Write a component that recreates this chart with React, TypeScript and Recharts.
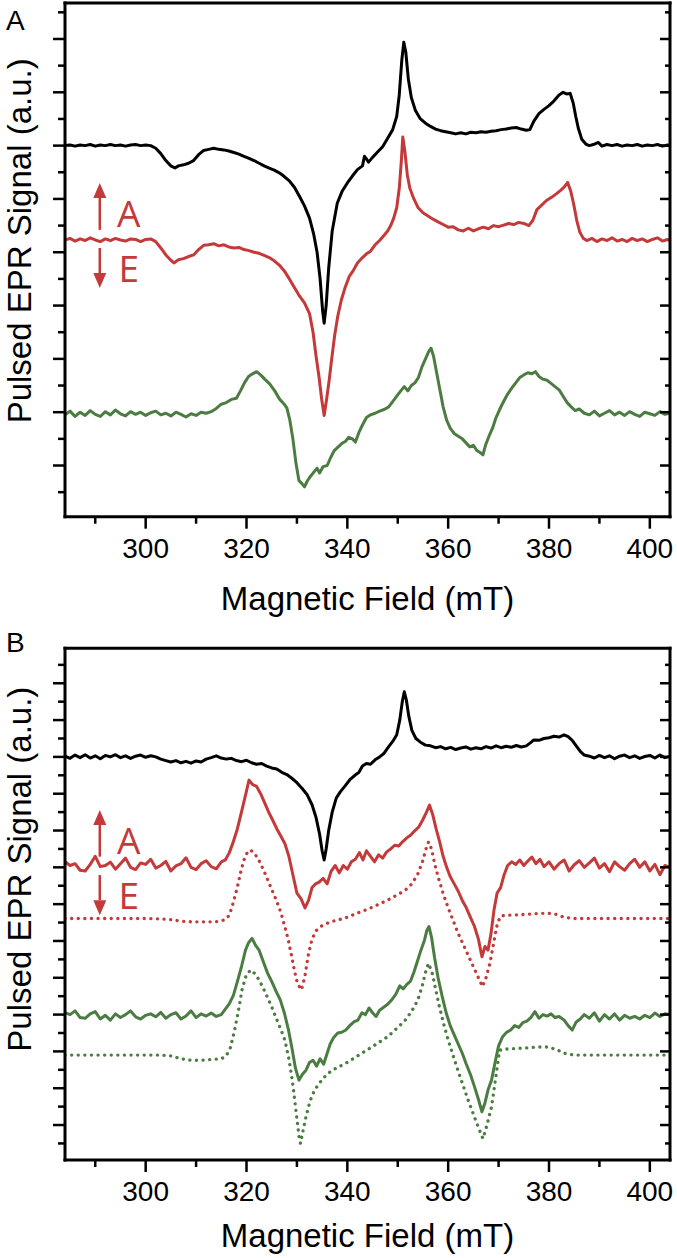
import React from 'react';
import { LineChart, Line, XAxis, YAxis, ReferenceLine } from 'recharts';

type Pt = [number, number];

// field (mT) / signal (a.u., one major y tick = 1)
const blackA: Pt[] = [
  [284, 0.0], [285, 0.01], [286, -0.01], [287, 0.01], [288, 0.0], [289, 0.02], [290, -0.01], [291, 0.01], [292, 0.0],
  [293, 0.02], [294, 0.0], [295, 0.01], [296, -0.01], [297, 0.01], [298, 0.02], [299, 0.0], [300, 0.01], [301, 0.0],
  [302, -0.05], [303, -0.15], [304, -0.28], [305, -0.38], [305.8, -0.42], [306.5, -0.38], [307.5, -0.36], [308.5, -0.33],
  [309.5, -0.28], [310.5, -0.17], [311.5, -0.09], [312.5, -0.07], [313.5, -0.05], [314.5, -0.07], [315.5, -0.08],
  [316.5, -0.1], [317.5, -0.13], [318.5, -0.16], [319.5, -0.2], [320.5, -0.24], [321.5, -0.28], [322.5, -0.33],
  [323.5, -0.38], [324.5, -0.42], [325.5, -0.46], [326.5, -0.51], [327.5, -0.58], [328.5, -0.66], [329.5, -0.78],
  [330.5, -0.95], [331.5, -1.13], [332.5, -1.36], [333.3, -1.65], [334, -2.0], [334.6, -2.5], [335.1, -3.1],
  [335.4, -3.33], [335.8, -3.0], [336.3, -2.3], [337, -1.6], [338, -1.08], [339, -0.85], [340, -0.7], [341, -0.57],
  [342, -0.45], [343, -0.38], [343.4, -0.2], [343.8, -0.25], [344.2, -0.31], [345, -0.22], [346, -0.12], [347, -0.02],
  [348, 0.14], [349, 0.3], [349.8, 0.55], [350.3, 0.95], [350.8, 1.6], [351.2, 1.94], [351.6, 1.75], [352.1, 1.25],
  [352.7, 0.9], [353.5, 0.66], [354.5, 0.5], [355.5, 0.42], [356.5, 0.36], [357.5, 0.31], [358.5, 0.28], [359.5, 0.26],
  [360.5, 0.24], [361.5, 0.22], [362.5, 0.24], [363.5, 0.22], [364.5, 0.25], [365.5, 0.24], [366.5, 0.26],
  [367.5, 0.25], [368.5, 0.27], [369.5, 0.28], [370.5, 0.3], [371.5, 0.31], [372.5, 0.33], [373.5, 0.34],
  [374.5, 0.31], [375.5, 0.29], [376.2, 0.3], [377, 0.46], [378, 0.6], [379, 0.68], [380, 0.75], [381, 0.84],
  [382, 0.95], [382.8, 1.0], [383.5, 0.97], [384.2, 0.98], [384.8, 0.8], [385.3, 0.55], [385.8, 0.33], [386.5, 0.12],
  [387.3, 0.03], [388, 0.0], [388.8, 0.02], [389.8, 0.06], [390.5, -0.01], [391.5, 0.02], [392.5, 0.0], [393.5, 0.02],
  [394.5, -0.01], [395.5, 0.01], [396.5, 0.0], [397.5, 0.02], [398.5, -0.01], [399.5, 0.01], [400.5, 0.0],
  [401.5, 0.02], [402.5, -0.01], [403.5, 0.01], [404, 0.0],
];

const redA: Pt[] = [
  [284, -1.77], [285, -1.74], [286, -1.79], [287, -1.75], [288, -1.78], [289, -1.73], [290, -1.77], [291, -1.8],
  [292, -1.75], [293, -1.78], [294, -1.74], [295, -1.77], [296, -1.79], [297, -1.75], [298, -1.76], [299, -1.8],
  [300, -1.76], [301, -1.75], [302, -1.8], [303, -1.92], [304, -2.05], [305, -2.15], [305.6, -2.2], [306.5, -2.14],
  [307.5, -2.12], [308.5, -2.08], [309.5, -2.05], [310.5, -1.95], [311.5, -1.87], [312.5, -1.86], [313.5, -1.84],
  [314.5, -1.88], [315.5, -1.86], [316.5, -1.9], [317.5, -1.92], [318.5, -1.91], [319.5, -1.95], [320.5, -1.97],
  [321.5, -2.0], [322.5, -2.02], [323.5, -2.06], [324.5, -2.1], [325.5, -2.16], [326.5, -2.24], [327.5, -2.35],
  [328.5, -2.5], [329.5, -2.66], [330.5, -2.82], [331.5, -2.95], [332.5, -3.15], [333.2, -3.5], [333.8, -3.95],
  [334.4, -4.35], [334.9, -4.75], [335.4, -5.06], [335.9, -4.75], [336.4, -4.4], [336.9, -4.0], [337.5, -3.55],
  [338.1, -3.2], [338.8, -2.9], [339.6, -2.65], [340.4, -2.45], [341.2, -2.34], [342, -2.2], [343, -2.1],
  [343.8, -2.03], [344.6, -1.98], [345.5, -1.86], [346.4, -1.78], [347.3, -1.68], [348, -1.6], [348.6, -1.5],
  [349.2, -1.36], [349.8, -1.16], [350.3, -0.8], [350.7, -0.3], [351, 0.16], [351.4, -0.1], [351.9, -0.55],
  [352.4, -0.8], [353.2, -1.0], [354, -1.16], [355, -1.26], [356, -1.32], [357, -1.38], [358, -1.43], [359, -1.48],
  [360, -1.53], [361, -1.52], [362, -1.58], [363, -1.6], [364, -1.55], [365, -1.6], [366, -1.56], [367, -1.53],
  [368, -1.56], [369, -1.5], [370, -1.52], [371, -1.49], [372, -1.46], [373, -1.48], [374, -1.44], [375, -1.46],
  [376, -1.5], [376.8, -1.4], [377.6, -1.2], [378.5, -1.12], [379.5, -1.03], [380.5, -0.97], [381.5, -0.9],
  [382.3, -0.84], [383, -0.78], [383.7, -0.69], [384.3, -0.85], [384.9, -1.1], [385.5, -1.4], [386.1, -1.62],
  [386.8, -1.74], [387.5, -1.78], [388.5, -1.74], [389.5, -1.8], [390.5, -1.75], [391.5, -1.78], [392.5, -1.73],
  [393.5, -1.79], [394.5, -1.76], [395.5, -1.8], [396.5, -1.74], [397.5, -1.78], [398.5, -1.75], [399.5, -1.8],
  [400.5, -1.76], [401.5, -1.73], [402.5, -1.79], [403.5, -1.76], [404, -1.78],
];

const greenA: Pt[] = [
  [284, -5.05], [285, -4.98], [286, -5.08], [287, -5.0], [288, -5.06], [289, -4.97], [290, -5.04], [291, -5.08],
  [292, -4.99], [293, -5.05], [294, -4.96], [295, -5.03], [296, -5.07], [297, -4.99], [298, -5.04], [299, -5.0],
  [300, -5.06], [301, -5.01], [302, -4.98], [303, -5.05], [304, -5.02], [305, -5.07], [306, -5.0], [307, -5.04],
  [308, -5.09], [309, -5.03], [310, -5.06], [311, -5.0], [312, -5.02], [313, -4.99], [314, -4.93], [315, -4.85],
  [316, -4.82], [317, -4.76], [318, -4.74], [318.8, -4.6], [319.6, -4.45], [320.4, -4.33], [321.2, -4.28],
  [322, -4.24], [322.8, -4.3], [323.6, -4.38], [324.6, -4.47], [325.6, -4.6], [326.6, -4.76], [327.4, -4.84],
  [328, -4.92], [328.6, -5.15], [329.2, -5.5], [329.8, -5.95], [330.4, -6.28], [331, -6.34], [331.5, -6.4],
  [332, -6.3], [332.7, -6.2], [333.4, -6.12], [334, -6.05], [334.5, -6.14], [335.2, -6.02], [336, -6.0],
  [336.7, -5.85], [337.4, -5.72], [338.2, -5.65], [339, -5.58], [339.6, -5.55], [340.3, -5.47], [341, -5.5],
  [341.6, -5.56], [342.3, -5.38], [343, -5.24], [343.8, -5.1], [344.6, -5.05], [345.5, -5.02], [346.4, -4.98],
  [347.3, -4.95], [348.2, -4.9], [349, -4.8], [349.8, -4.7], [350.6, -4.6], [351.3, -4.52], [352, -4.6],
  [352.7, -4.5], [353.4, -4.45], [354.1, -4.35], [354.8, -4.15], [355.5, -4.0], [356.2, -3.85], [356.6, -3.8],
  [357.1, -3.95], [357.7, -4.25], [358.3, -4.55], [359, -4.9], [359.7, -5.15], [360.4, -5.3], [361.2, -5.4],
  [362, -5.45], [362.8, -5.5], [363.6, -5.58], [364.3, -5.65], [365, -5.62], [365.7, -5.72], [366.4, -5.76],
  [366.9, -5.8], [367.4, -5.62], [368.1, -5.45], [368.8, -5.3], [369.5, -5.1], [370.2, -4.95], [371, -4.8],
  [371.8, -4.66], [372.6, -4.55], [373.4, -4.45], [374.2, -4.35], [375, -4.3], [375.8, -4.26], [376.6, -4.28],
  [377.3, -4.24], [378, -4.33], [378.8, -4.38], [379.6, -4.4], [380.4, -4.46], [381.2, -4.52], [382, -4.58],
  [382.8, -4.7], [383.6, -4.82], [384.4, -4.9], [385.2, -4.97], [386, -4.94], [387, -5.02], [388, -5.05],
  [389, -4.98], [390, -5.07], [391, -5.02], [392, -4.97], [393, -5.05], [394, -5.0], [395, -5.06], [396, -4.99],
  [397, -5.04], [398, -5.08], [399, -5.0], [400, -5.03], [401, -5.06], [402, -4.99], [403, -5.04], [404, -5.02],
];

const blackB: Pt[] = [
  [284, 0.02], [285, -0.04], [286, 0.05], [287, -0.02], [288, 0.06], [289, -0.03], [290, 0.03], [291, -0.05],
  [292, 0.04], [293, 0.0], [294, 0.06], [295, -0.02], [296, 0.03], [297, -0.04], [298, 0.02], [299, 0.05],
  [300, -0.01], [301, 0.03], [302, 0.0], [303, -0.06], [304, -0.1], [305, -0.14], [306, -0.1], [307, -0.16],
  [308, -0.12], [309, -0.17], [310, -0.11], [311, -0.14], [312, -0.06], [313, -0.02], [314, 0.03], [315, -0.03],
  [316, -0.06], [317, -0.04], [318, -0.1], [319, -0.13], [320, -0.09], [321, -0.16], [322, -0.2], [323, -0.18],
  [324, -0.25], [325, -0.3], [326, -0.33], [327, -0.42], [328, -0.48], [329, -0.58], [330, -0.7], [331, -0.85],
  [332, -1.02], [333, -1.3], [333.8, -1.65], [334.5, -2.1], [335, -2.55], [335.4, -2.8], [335.8, -2.5],
  [336.3, -2.0], [337, -1.5], [337.8, -1.12], [338.6, -0.95], [339.6, -0.78], [340.5, -0.62], [341.5, -0.5],
  [342.3, -0.42], [343, -0.25], [343.8, -0.18], [344.6, -0.2], [345.5, -0.08], [346.4, 0.0], [347.3, 0.1],
  [348.2, 0.28], [349, 0.42], [349.8, 0.6], [350.4, 1.0], [350.9, 1.5], [351.3, 1.77], [351.7, 1.55],
  [352.2, 1.1], [352.8, 0.72], [353.6, 0.5], [354.5, 0.4], [355.5, 0.32], [356.5, 0.3], [357.5, 0.25],
  [358.5, 0.28], [359.5, 0.22], [360.5, 0.26], [361.5, 0.2], [362.5, 0.24], [363.5, 0.27], [364.5, 0.21],
  [365.5, 0.25], [366.5, 0.22], [367.5, 0.28], [368.5, 0.24], [369.5, 0.3], [370.5, 0.25], [371.5, 0.29],
  [372.5, 0.26], [373.5, 0.31], [374.5, 0.27], [375.5, 0.3], [376.3, 0.38], [377, 0.46], [378, 0.45], [379, 0.5],
  [380, 0.52], [381, 0.56], [382, 0.54], [383, 0.6], [383.8, 0.55], [384.6, 0.45], [385.4, 0.3], [386.2, 0.15],
  [387, 0.05], [388, 0.02], [389, -0.03], [390, 0.04], [391, -0.02], [392, 0.03], [393, -0.05], [394, 0.02],
  [395, 0.05], [396, -0.02], [397, 0.03], [398, -0.04], [399, 0.01], [400, 0.04], [401, -0.03], [402, 0.05],
  [403, -0.02], [404, 0.01],
];

const redB: Pt[] = [
  [284, -2.85], [285, -2.95], [286, -2.9], [287, -3.08], [288, -3.1], [289, -2.92], [290, -2.7], [291, -2.98],
  [292, -2.95], [293, -2.86], [294, -3.05], [295, -2.9], [296, -2.75], [297, -3.0], [298, -3.06], [299, -2.88],
  [300, -2.92], [301, -2.78], [302, -3.02], [303, -2.95], [304, -2.84], [305, -3.1], [306, -2.96], [307, -2.9],
  [308, -2.74], [309, -3.0], [310, -3.06], [311, -2.9], [312, -2.82], [313, -2.98], [314, -3.04], [315, -2.85],
  [315.8, -2.8], [316.6, -2.6], [317.4, -2.3], [318.2, -1.95], [319, -1.5], [319.7, -1.1], [320.5, -0.63],
  [321.2, -0.75], [322, -0.8], [322.8, -1.0], [323.6, -1.25], [324.4, -1.5], [325.2, -1.72], [326, -1.95],
  [326.8, -2.15], [327.6, -2.35], [328.4, -2.7], [329.2, -3.2], [330, -3.7], [330.8, -3.85], [331.6, -4.1],
  [332.3, -3.9], [333, -3.55], [333.7, -3.45], [334.4, -3.4], [335.2, -3.3], [336, -3.45], [336.8, -3.1],
  [337.6, -2.95], [338.4, -3.15], [339.2, -2.95], [340, -3.05], [340.8, -2.85], [341.6, -2.78], [342.4, -2.6],
  [343.1, -2.8], [343.8, -2.55], [344.6, -2.7], [345.4, -2.85], [346.2, -2.66], [347, -2.75], [347.8, -2.58],
  [348.6, -2.5], [349.4, -2.4], [350.2, -2.42], [351, -2.3], [351.8, -2.2], [352.6, -2.12], [353.4, -2.0],
  [354.2, -1.9], [355, -1.7], [355.7, -1.5], [356.3, -1.31], [356.9, -1.55], [357.6, -1.95], [358.3, -2.3],
  [359, -2.7], [359.7, -3.0], [360.4, -3.25], [361.2, -3.45], [362, -3.65], [362.8, -3.9], [363.6, -4.1],
  [364.4, -4.35], [365.2, -4.6], [366, -4.95], [366.7, -5.43], [367.3, -5.15], [367.9, -5.25], [368.5, -4.8],
  [369.1, -4.15], [369.7, -3.7], [370.4, -3.55], [371.1, -3.2], [371.8, -2.95], [372.6, -2.85], [373.4, -2.92],
  [374.2, -2.8], [375, -2.95], [375.8, -2.83], [376.6, -2.72], [377.4, -2.9], [378.2, -2.78], [379, -2.98],
  [380, -2.85], [381, -3.05], [382, -2.9], [383, -2.8], [384, -3.1], [385, -2.93], [386, -2.82], [387, -3.0],
  [388, -2.88], [389, -2.75], [390, -3.02], [391, -2.9], [392, -3.12], [393, -2.85], [394, -2.98], [395, -3.08],
  [396, -2.9], [397, -2.78], [398, -3.0], [399, -2.85], [400, -3.1], [401, -2.92], [402, -3.2], [403, -2.95],
  [404, -3.0],
];

const redSimB: Pt[] = [
  [284, -4.39], [290, -4.39], [295, -4.39], [300, -4.39], [303, -4.4], [305, -4.42], [307, -4.46], [309, -4.48],
  [311, -4.48], [313, -4.48], [314.5, -4.47], [315.8, -4.42], [316.6, -4.3], [317.4, -3.95], [318.2, -3.53],
  [318.9, -3.1], [319.5, -2.8], [320.2, -2.58], [320.8, -2.53], [321.6, -2.62], [322.5, -2.82], [323.4, -3.08],
  [324.2, -3.34], [325, -3.6], [325.9, -3.89], [326.8, -4.22], [327.6, -4.61], [328.3, -4.98], [328.9, -5.38],
  [329.5, -5.8], [330.1, -6.15], [330.9, -6.33], [331.6, -5.95], [332.3, -5.35], [333, -4.95], [333.8, -4.72],
  [334.8, -4.6], [336, -4.52], [337.5, -4.45], [339.5, -4.38], [341.5, -4.27], [343.8, -4.15], [346, -4.02],
  [348, -3.89], [350, -3.74], [351.5, -3.62], [352.8, -3.45], [354, -3.17], [354.9, -2.85], [355.6, -2.5],
  [356.1, -2.31], [356.7, -2.5], [357.4, -2.95], [358.2, -3.35], [359.1, -3.75], [360, -4.1], [361, -4.45],
  [362, -4.8], [363, -5.1], [364, -5.4], [365, -5.7], [366, -6.0], [366.8, -6.24], [367.5, -6.0], [368.3, -5.6],
  [369.1, -5.0], [369.8, -4.5], [370.5, -4.32], [372, -4.3], [374, -4.29], [376, -4.27], [378, -4.25], [380, -4.25],
  [381.5, -4.28], [383, -4.36], [385, -4.39], [390, -4.39], [395, -4.39], [400, -4.39], [404, -4.39],
];

const greenB: Pt[] = [
  [284, -6.95], [285, -7.0], [286, -6.9], [287, -7.08], [288, -7.1], [289, -6.98], [290, -6.92], [291, -7.12],
  [292, -7.02], [293, -7.15], [294, -6.98], [295, -7.08], [296, -7.0], [297, -6.9], [298, -7.06], [299, -7.12],
  [300, -7.02], [301, -6.98], [302, -7.06], [303, -6.94], [304, -7.1], [305, -7.0], [306, -6.95], [307, -7.12],
  [308, -7.04], [309, -6.9], [310, -7.08], [311, -6.98], [312, -7.04], [313, -6.96], [314, -7.05], [315, -7.0],
  [315.8, -6.85], [316.6, -6.7], [317.4, -6.48], [318.2, -6.1], [319, -5.7], [319.8, -5.25], [320.4, -5.05],
  [321.1, -4.93], [321.8, -5.12], [322.5, -5.25], [323.3, -5.55], [324.2, -5.88], [325, -6.1], [325.8, -6.35],
  [326.7, -6.6], [327.5, -6.95], [328.3, -7.4], [329, -7.9], [329.7, -8.45], [330.4, -8.78], [331.1, -8.62],
  [331.8, -8.51], [332.5, -8.3], [333.2, -8.24], [333.9, -8.4], [334.6, -8.2], [335.3, -8.35], [336, -8.05],
  [336.6, -7.8], [337.3, -7.62], [338.1, -7.5], [338.9, -7.48], [339.7, -7.42], [340.5, -7.3], [341.3, -7.2],
  [342.1, -7.15], [342.9, -6.95], [343.6, -7.0], [344.3, -6.82], [345, -6.95], [345.7, -7.05], [346.4, -6.88],
  [347.2, -6.8], [348, -6.72], [348.8, -6.6], [349.6, -6.45], [350.4, -6.22], [351.1, -6.3], [351.8, -6.18],
  [352.5, -6.1], [353.2, -5.85], [353.9, -5.55], [354.6, -5.25], [355.3, -4.98], [355.8, -4.7], [356.2, -4.61],
  [356.7, -4.9], [357.3, -5.45], [358, -6.0], [358.8, -6.5], [359.6, -6.95], [360.4, -7.3], [361.2, -7.55],
  [362, -7.8], [362.8, -8.05], [363.6, -8.35], [364.4, -8.62], [365.2, -8.95], [366, -9.3], [366.7, -9.64],
  [367.3, -9.4], [367.9, -9.05], [368.6, -8.78], [369.3, -8.3], [370, -7.85], [370.8, -7.6], [371.6, -7.48],
  [372.4, -7.42], [373.2, -7.3], [374, -7.35], [374.8, -7.22], [375.6, -7.18], [376.4, -7.08], [377.2, -6.92],
  [378, -7.1], [378.8, -7.0], [379.6, -7.04], [380.4, -6.98], [381.2, -7.08], [382, -7.05], [383, -7.15],
  [383.8, -7.3], [384.6, -7.42], [385.4, -7.2], [386.2, -7.12], [387, -7.0], [388, -7.1], [389, -6.95],
  [390, -7.18], [391, -7.0], [392, -7.12], [393, -6.98], [394, -7.15], [395, -7.02], [396, -7.1], [397, -7.05],
  [398, -7.12], [399, -7.02], [400, -7.08], [401, -6.96], [402, -7.05], [403, -6.98], [404, -7.0],
];

const greenSimB: Pt[] = [
  [284, -8.1], [290, -8.1], [295, -8.1], [300, -8.1], [303, -8.1], [305, -8.12], [307, -8.2], [309, -8.24],
  [311, -8.24], [313, -8.22], [315, -8.2], [316, -8.12], [316.8, -7.9], [317.6, -7.45], [318.4, -6.9],
  [319.1, -6.33], [319.9, -5.95], [320.8, -5.79], [321.6, -5.88], [322.5, -6.06], [323.4, -6.3], [324.2, -6.55],
  [325, -6.79], [325.9, -7.1], [326.8, -7.4], [327.6, -7.69], [328.4, -8.2], [329.1, -8.8], [329.8, -9.6],
  [330.4, -10.3], [330.7, -10.5], [331.3, -10.1], [331.8, -9.78], [332.6, -9.35], [333.5, -9.05], [334.8, -8.8],
  [336.1, -8.6], [337.8, -8.45], [339.6, -8.33], [341.7, -8.15], [343.8, -7.97], [346, -7.78], [348, -7.6],
  [350, -7.35], [351.5, -7.15], [352.8, -6.9], [354, -6.6], [354.9, -6.2], [355.6, -5.8], [356.1, -5.61],
  [356.8, -5.85], [357.4, -6.24], [358.2, -6.75], [359.1, -7.25], [360, -7.69], [361.3, -8.25], [362.6, -8.78],
  [363.9, -9.3], [365.2, -9.78], [366.1, -10.1], [366.9, -10.37], [367.7, -10.0], [368.6, -9.51], [369.4, -8.75],
  [370.2, -7.97], [371, -7.94], [373.6, -7.92], [376, -7.9], [378, -7.88], [379.7, -7.88], [381.5, -7.95],
  [383.1, -8.05], [385, -8.1], [390, -8.1], [395, -8.1], [400, -8.1], [404, -8.1],
];

const fieldDomain = [284, 404];
const fieldTicks = [290, 300, 310, 320, 330, 340, 350, 360, 370, 380, 390, 400];
const fieldLabels = [300, 320, 340, 360, 380, 400];
const signalTicksA = [-6.5, -6, -5.5, -5, -4.5, -4, -3.5, -3, -2.5, -2, -1.5, -1, -0.5, 0, 0.5, 1, 1.5, 2, 2.5];
const signalTicksB = [
  -10.5, -10, -9.5, -9, -8.5, -8, -7.5, -7, -6.5, -6, -5.5, -5, -4.5, -4, -3.5, -3, -2.5, -2, -1.5, -1, -0.5, 0,
  0.5, 1, 1.5, 2, 2.5,
];

const RED = '#c4393a';
const GREEN = '#4b7c41';
const SANS = '"Liberation Sans", Arial, Helvetica, sans-serif';

const rows = (pts: Pt[]) => pts.map(([field, signal]) => ({ field, signal }));

const MAJOR = 12;
const MINOR = 7;
const TICK_W = 2.5;

const BottomTick = ({ x, y, payload }: any) => {
  const major = fieldLabels.includes(payload.value);
  return (
    <g>
      <line x1={x} x2={x} y1={y} y2={y + (major ? MAJOR : MINOR)} stroke="#000" strokeWidth={TICK_W} />
      {major && (
        <text x={x} y={y + 41} textAnchor="middle" fontSize={28} fontFamily={SANS} fill="#000">
          {payload.value}
        </text>
      )}
    </g>
  );
};

const TopTick = ({ x, y, payload }: any) => {
  const major = fieldLabels.includes(payload.value);
  return <line x1={x} x2={x} y1={y} y2={y + (major ? MAJOR : MINOR)} stroke="#000" strokeWidth={TICK_W} />;
};

const LeftTick = ({ x, y, payload }: any) => {
  const major = Number.isInteger(payload.value);
  return <line x1={x} x2={x - (major ? MAJOR : MINOR)} y1={y} y2={y} stroke="#000" strokeWidth={TICK_W} />;
};

const RightTick = ({ x, y, payload }: any) => {
  const major = Number.isInteger(payload.value);
  return <line x1={x} x2={x - (major ? 10 : 5)} y1={y} y2={y} stroke="#000" strokeWidth={TICK_W} />;
};

const axisLine = { stroke: '#000', strokeWidth: 3, strokeLinecap: 'square' as const };

// arrow drawn in data space, head at the second point, letter beside it
const Arrow = ({ x1, y1, x2, y2, letter }: any) => {
  const dir = y2 < y1 ? -1 : 1;
  const headLen = 15;
  const headHalf = 6.5;
  const baseY = y2 - dir * headLen;
  const textY = dir < 0 ? y1 - 3 : y2 - 6;
  return (
    <g>
      <line x1={x1} y1={y1} x2={x2} y2={baseY} stroke={RED} strokeWidth={2.5} />
      <polygon points={`${x2},${y2} ${x2 - headHalf},${baseY} ${x2 + headHalf},${baseY}`} fill={RED} />
      <text x={x1 + 29} y={textY} textAnchor="middle" fontSize={37} fontFamily='"Open Sans", "Noto Sans", sans-serif' fill={RED}>
        {letter}
      </text>
    </g>
  );
};

type Series = { name: string; pts: Pt[]; color: string; dotted?: boolean };

type PanelProps = {
  height: number;
  marginTop: number;
  xAxisHeight: number;
  xTitleOffset: number;
  yDomain: number[];
  yTicks: number[];
  series: Series[];
  arrowX: number;
  up: number[];
  down: number[];
  titleShift: number;
};

const EprPanel = ({
  height, marginTop, xAxisHeight, xTitleOffset, yDomain, yTicks, series, arrowX, up, down, titleShift,
}: PanelProps) => (
  <LineChart width={677} height={height} margin={{ top: marginTop, right: 6, bottom: 0, left: 0 }}>
    <XAxis
      xAxisId="bottom"
      dataKey="field"
      type="number"
      domain={fieldDomain}
      allowDataOverflow
      ticks={fieldTicks}
      interval={0}
      height={xAxisHeight}
      tickSize={0}
      tickMargin={0}
      tickLine={false}
      axisLine={axisLine}
      tick={<BottomTick />}
      label={(p: any) => {
        const vb = p.viewBox || {};
        return (
          <text x={vb.x + vb.width / 2} y={vb.y + xTitleOffset} textAnchor="middle" fontSize={33} fontFamily={SANS} fill="#000">
            Magnetic Field (mT)
          </text>
        );
      }}
    />
    <XAxis
      xAxisId="top"
      orientation="top"
      type="number"
      domain={fieldDomain}
      allowDataOverflow
      ticks={fieldTicks}
      interval={0}
      height={1}
      tickSize={0}
      tickMargin={0}
      tickLine={false}
      axisLine={axisLine}
      tick={<TopTick />}
    />
    <YAxis
      yAxisId="left"
      type="number"
      domain={yDomain}
      allowDataOverflow
      ticks={yTicks}
      interval={0}
      width={65}
      tickSize={0}
      tickMargin={0}
      tickLine={false}
      axisLine={axisLine}
      tick={<LeftTick />}
      label={(p: any) => {
        const vb = p.viewBox || {};
        const cx = vb.x + 31;
        const cy = vb.y + vb.height / 2 + titleShift;
        return (
          <text x={cx} y={cy} transform={`rotate(-90, ${cx}, ${cy})`} textAnchor="middle" fontSize={33} fontFamily={SANS} fill="#000">
            Pulsed EPR Signal (a.u.)
          </text>
        );
      }}
    />
    <YAxis
      yAxisId="right"
      orientation="right"
      type="number"
      domain={yDomain}
      allowDataOverflow
      ticks={yTicks}
      interval={0}
      width={1}
      tickSize={0}
      tickMargin={0}
      tickLine={false}
      axisLine={axisLine}
      tick={<RightTick />}
    />
    {series.map((s) => (
      <Line
        key={s.name}
        xAxisId="bottom"
        yAxisId="left"
        data={rows(s.pts)}
        dataKey="signal"
        type="linear"
        stroke={s.color}
        strokeWidth={s.dotted ? 3.3 : 3}
        strokeDasharray={s.dotted ? '0.1 6.5' : undefined}
        strokeLinecap="round"
        strokeLinejoin="round"
        dot={false}
        activeDot={false}
        isAnimationActive={false}
      />
    ))}
    <ReferenceLine
      xAxisId="bottom"
      yAxisId="left"
      segment={[{ x: arrowX, y: up[0] }, { x: arrowX, y: up[1] }]}
      shape={(p: any) => <Arrow {...p} letter="A" />}
    />
    <ReferenceLine
      xAxisId="bottom"
      yAxisId="left"
      segment={[{ x: arrowX, y: down[0] }, { x: arrowX, y: down[1] }]}
      shape={(p: any) => <Arrow {...p} letter="E" />}
    />
  </LineChart>
);

const PanelLetter = ({ letter, top }: { letter: string; top: number }) => (
  <svg width={40} height={40} style={{ position: 'absolute', left: 0, top }}>
    <text x={6} y={30} fontSize={28} fontFamily={SANS} fill="#000">
      {letter}
    </text>
  </svg>
);

export default function App() {
  return (
    <div style={{ position: 'absolute', left: 0, top: 0, width: 677, height: 1258, background: '#fff' }}>
      <div style={{ position: 'absolute', left: 0, top: 0 }}>
        <EprPanel
          height={620}
          marginTop={2}
          xAxisHeight={103.3}
          xTitleOffset={93}
          yDomain={[-6.96, 2.675]}
          yTicks={signalTicksA}
          series={[
            { name: 'blackA', pts: blackA, color: '#000' },
            { name: 'redA', pts: redA, color: RED },
            { name: 'greenA', pts: greenA, color: GREEN },
          ]}
          arrowX={290.9}
          up={[-1.58, -0.7]}
          down={[-1.92, -2.67]}
          titleShift={-19}
        />
      </div>
      <div style={{ position: 'absolute', left: 0, top: 620 }}>
        <EprPanel
          height={638}
          marginTop={27.3}
          xAxisHeight={98}
          xTitleOffset={87}
          yDomain={[-10.95, 2.95]}
          yTicks={signalTicksB}
          series={[
            { name: 'blackB', pts: blackB, color: '#000' },
            { name: 'redSimB', pts: redSimB, color: RED, dotted: true },
            { name: 'redB', pts: redB, color: RED },
            { name: 'greenSimB', pts: greenSimB, color: GREEN, dotted: true },
            { name: 'greenB', pts: greenB, color: GREEN },
          ]}
          arrowX={290.9}
          up={[-2.71, -1.44]}
          down={[-3.21, -4.3]}
          titleShift={-35}
        />
      </div>
      <PanelLetter letter="A" top={0} />
      <PanelLetter letter="B" top={622} />
    </div>
  );
}
